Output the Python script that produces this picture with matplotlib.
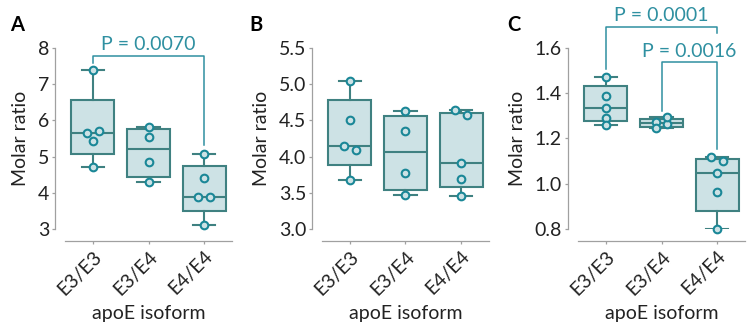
import numpy as np
import matplotlib
matplotlib.use("Agg")
from matplotlib import pyplot as plt
from matplotlib.ticker import FormatStrFormatter

plt.rcParams['font.family'] = ['Lato', 'DejaVu Sans']

groups = ["E3/E3", "E3/E4", "E4/E4"]

# panel A
a_e33 = [7.40, 5.66, 5.715, 5.43, 4.71]
a_e34 = [5.83, 5.54, 4.86, 4.30]
a_e44 = [5.08, 4.40, 3.87, 3.88, 3.12]

# panel B
b_e33 = [5.04, 4.51, 4.14, 4.09, 3.67]
b_e34 = [4.63, 4.36, 3.77, 3.47]
b_e44 = [4.64, 4.57, 3.905, 3.69, 3.46]

# panel C
c_e33 = [1.473, 1.388, 1.333, 1.292, 1.259]
c_e34 = [1.274, 1.264, 1.245, 1.293]
c_e44 = [1.119, 1.100, 1.048, 0.964, 0.798]

p_a = "0.0070"
p_c_33_44 = "0.0001"
p_c_34_44 = "0.0016"

box_edge = '#3f8181'
box_fill = '#cde2e5'
dot_edge = '#1a8797'
sig_col = '#2f90a1'
axis_col = '#a0a0a0'
txt_col = '#222222'


def box_stats(vals):
    v = np.asarray(vals)
    q1, med, q3 = np.percentile(v, [25, 50, 75], method='weibull')
    return dict(med=med, q1=q1, q3=q3, whislo=v.min(), whishi=v.max(), fliers=[])


def swarm_x(ax, pos, vals, diam_px=6.5, half=0.105):
    # spread points that would overlap into two columns
    vals = np.asarray(vals)
    ypx = ax.transData.transform(np.column_stack([np.full(len(vals), pos), vals]))[:, 1]
    order = np.argsort(ypx)
    clusters, cur = [], [order[0]]
    for a, b in zip(order[:-1], order[1:]):
        if ypx[b] - ypx[a] < diam_px:
            cur.append(b)
        else:
            clusters.append(cur)
            cur = [b]
    clusters.append(cur)
    xs = np.full(len(vals), float(pos))
    for cl in clusters:
        if len(cl) > 1:
            for k, i in enumerate(sorted(cl)):
                xs[i] = pos - half if k % 2 == 0 else pos + half
    return xs


def px_up(ax, y, px):
    ypx = ax.transData.transform((0, y))[1] + px
    return ax.transData.inverted().transform((0, ypx))[1]


def bracket(ax, x0, x1, top, bot0, bot1, label):
    ax.plot([x0, x0, x1, x1], [bot0, top, top, bot1], color=sig_col, lw=1.1,
            clip_on=False, zorder=5)
    ax.annotate("P = " + label, xy=((x0 + x1) / 2, top), xytext=(0, 2),
                textcoords='offset points', ha='center', va='bottom',
                fontsize=14, color=sig_col, annotation_clip=False)


def panel(ax, data, ylim, yticks, fmt):
    ax.set_xlim(-0.5, 2.5)
    ax.set_ylim(*ylim)
    stats = [box_stats(d) for d in data]
    ax.bxp(stats, positions=[0, 1, 2], widths=0.77, capwidths=0.4,
           patch_artist=True, showfliers=False,
           boxprops=dict(facecolor=box_fill, edgecolor=box_edge, linewidth=1.5),
           whiskerprops=dict(color=box_edge, linewidth=1.5),
           capprops=dict(color=box_edge, linewidth=1.5),
           medianprops=dict(color=box_edge, linewidth=1.5))
    for i, d in enumerate(data):
        xs = swarm_x(ax, i, d)
        ax.plot(xs, d, 'o', ms=5.5, mfc=box_fill, mec=dot_edge, mew=1.5,
                zorder=4, clip_on=False)

    for s in ['top', 'right']:
        ax.spines[s].set_visible(False)
    ax.spines['left'].set_position(('outward', 7))
    ax.spines['bottom'].set_position(('outward', 9))
    ax.spines['left'].set_bounds(ylim[0], ylim[1])
    for s in ['left', 'bottom']:
        ax.spines[s].set_color(axis_col)
        ax.spines[s].set_linewidth(0.9)
    ax.set_yticks(yticks)
    ax.yaxis.set_major_formatter(FormatStrFormatter(fmt))
    ax.set_xticks([0, 1, 2])
    ax.set_xticklabels(groups, rotation=45, ha='right', va='top',
                       rotation_mode='anchor')
    ax.tick_params(axis='both', colors=axis_col, labelcolor=txt_col,
                   labelsize=14, length=2.5, width=0.9, pad=2)
    ax.set_ylabel("Molar ratio", fontsize=14, color=txt_col, labelpad=6)
    ax.set_xlabel("apoE isoform", fontsize=14, color=txt_col, labelpad=5)


fig = plt.figure(figsize=(7.5, 3.3), dpi=100)
bottom, height, width = 0.3061, 0.5485, 0.2227

ax_a = fig.add_axes([0.0867, bottom, width, height])
panel(ax_a, [a_e33, a_e34, a_e44], (3, 8), [3, 4, 5, 6, 7, 8], '%d')
bracket(ax_a, 0, 2, px_up(ax_a, max(a_e33), 14),
        px_up(ax_a, max(a_e33), 7), px_up(ax_a, max(a_e44), 9), p_a)

ax_b = fig.add_axes([0.4293, bottom, width, height])
panel(ax_b, [b_e33, b_e34, b_e44], (3.0, 5.5), [3.0, 3.5, 4.0, 4.5, 5.0, 5.5], '%.1f')

ax_c = fig.add_axes([0.7707, bottom, width, height])
panel(ax_c, [c_e33, c_e34, c_e44], (0.8, 1.6), [0.8, 1.0, 1.2, 1.4, 1.6], '%.1f')
top1 = px_up(ax_c, max(c_e33), 50)
bracket(ax_c, 0, 2, top1, px_up(ax_c, max(c_e33), 8), px_up(ax_c, top1, -6.5), p_c_33_44)
bracket(ax_c, 1, 2, px_up(ax_c, max(c_e34), 55),
        px_up(ax_c, max(c_e34), 6), px_up(ax_c, max(c_e44), 8), p_c_34_44)

for x, letter in [(0.013, 'A'), (0.333, 'B'), (0.676, 'C')]:
    fig.text(x, 0.955, letter, fontsize=14.5, fontweight='bold', va='top', ha='left')

fig.savefig('out.png', dpi=100)
